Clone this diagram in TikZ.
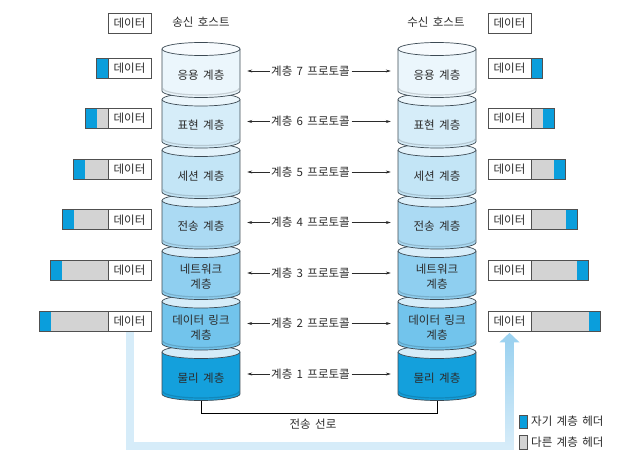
\documentclass[tikz,border=0pt]{standalone}
\usepackage{fontspec}
\setmainfont{Noto Sans CJK KR}[WordSpace=1.7]
\usetikzlibrary{arrows.meta,calc}
\definecolor{txtc}{HTML}{2B2B2B}
\definecolor{boxc}{HTML}{505050}
\definecolor{cyle}{HTML}{3C4A54}
\definecolor{hdrblue}{HTML}{0A9EDC}
\definecolor{hdrgray}{HTML}{D3D3D3}
\definecolor{bandlight}{HTML}{D6ECF9}
\definecolor{banddark}{HTML}{9CD2F0}
\definecolor{L1b}{HTML}{14A0DC}\definecolor{L1t}{HTML}{D5ECF8}
\definecolor{L2b}{HTML}{72C4EC}\definecolor{L2t}{HTML}{D7EDF9}
\definecolor{L3b}{HTML}{8FCFF0}\definecolor{L3t}{HTML}{D9EEFA}
\definecolor{L4b}{HTML}{ABDAF3}\definecolor{L4t}{HTML}{DDF0FA}
\definecolor{L5b}{HTML}{C3E5F6}\definecolor{L5t}{HTML}{E4F3FB}
\definecolor{L6b}{HTML}{D6EDF9}\definecolor{L6t}{HTML}{EBF6FC}
\definecolor{L7b}{HTML}{EBF6FC}\definecolor{L7t}{HTML}{F7FBFE}
\tikzset{
  txt/.style={font=\fontsize{11.5}{15}\selectfont, text=txtc, inner sep=0pt, align=center},
  databox/.style={draw=boxc, line width=0.7pt, minimum width=43pt, minimum height=20pt, inner sep=0pt, fill=white, font=\fontsize{11.5}{15}\selectfont, text=txtc},
  boxedge/.style={draw=boxc, line width=0.7pt},
  cyledge/.style={draw=cyle, line width=0.7pt},
  cylhit/.style={minimum width=78pt, minimum height=42pt, inner sep=0pt},
  parrow/.style={-{Stealth[length=5pt,width=3pt]}, line width=0.6pt, draw=txtc, shorten >=7pt, shorten <=1.5pt},
  wire/.style={draw=black, line width=0.8pt},
}
\newcommand{\mkcyl}[5]{%
  \fill[#4] (#2-39,#3) rectangle (#2+39,#3+42);
  \fill[#4] (#2,#3+42) ellipse[x radius=39,y radius=6.5];
  \draw[black, opacity=0.15, line width=1.2pt] (#2-38,#3+39.5) .. controls (#2-38,#3+43) and (#2-21,#3+46) .. (#2,#3+46) .. controls (#2+21,#3+46) and (#2+38,#3+43) .. (#2+38,#3+39.5);
  \draw[cyledge] (#2-39,#3) -- (#2-39,#3+42) .. controls (#2-39,#3+45.6) and (#2-21.5,#3+48.5) .. (#2,#3+48.5) .. controls (#2+21.5,#3+48.5) and (#2+39,#3+45.6) .. (#2+39,#3+42) -- (#2+39,#3);
  \filldraw[fill=#5, cyledge] (#2,#3) ellipse[x radius=39,y radius=6.5];
  \node[cylhit] (#1) at (#2,#3+21) {};
}
\newcommand{\mkleftbar}[3]{%
  \fill[hdrblue] (108-11.5*#3-11.5,#2-10) rectangle (108-11.5*#3,#2+10);
  \fill[hdrgray] (108-11.5*#3,#2-10) rectangle (108,#2+10);
  \draw[boxedge] (108-11.5*#3-11.5,#2-10) rectangle (108,#2+10);
  \node[databox] (#1) at (129.5,#2) {데이터};
}
\newcommand{\mkrightbar}[3]{%
  \fill[hdrgray] (531,#2-10) rectangle (531+11.5*#3,#2+10);
  \fill[hdrblue] (531+11.5*#3,#2-10) rectangle (531+11.5*#3+11.5,#2+10);
  \draw[boxedge] (531,#2-10) rectangle (531+11.5*#3+11.5,#2+10);
  \node[databox] (#1) at (509.5,#2) {데이터};
}
\begin{document}
\begin{tikzpicture}[x=1pt,y=-1pt]
\useasboundingbox (0,0) rectangle (644,460);
\fill[white] (0,0) rectangle (644,460);
% headers
\node[txt] (hS) at (201,22) {송신 호스트};
\node[txt] (hR) at (436,22) {수신 호스트};
\node[databox] (dL) at (129.5,23) {데이터};
\node[databox] (dR) at (509.5,23) {데이터};
% cylinders, bottom first
\foreach \k/\bc/\tc in {1/L1b/L1t,2/L2b/L2t,3/L3b/L3t,4/L4b/L4t,5/L5b/L5t,6/L6b/L6t,7/L7b/L7t}{
  \pgfmathsetmacro{\yt}{49+(7-\k)*50.5}
  \mkcyl{S\k}{201}{\yt}{\bc}{\tc}
  \mkcyl{R\k}{437}{\yt}{\bc}{\tc}
}
% layer names
\foreach \k/\t in {7/{응용 계층},6/{표현 계층},5/{세션 계층},4/{전송 계층},3/{네트워크\\계층},2/{데이터 링크\\계층},1/{물리 계층}}{
  \node[txt] (tS\k) at ($(S\k)+(0,5)$) {\t};
  \node[txt] (tR\k) at ($(R\k)+(0,5)$) {\t};
  \node[txt, anchor=west] (P\k) at ($(S\k)+(70,1)$) {계층 \k\ 프로토콜};
  \draw[parrow] (P\k.west) -- (P\k.west -| S\k.east);
  \draw[parrow] (P\k.east) -- (P\k.east -| R\k.west);
}
% header bars
\foreach \k in {7,6,5,4,3,2}{
  \pgfmathsetmacro{\yc}{68+(7-\k)*50.6}
  \pgfmathtruncatemacro{\ng}{7-\k}
  \mkleftbar{dL\k}{\yc}{\ng}
  \mkrightbar{dR\k}{\yc}{\ng}
}
% transmission line
\draw[wire] ($(S1.south)+(0,6.5)$) -- ++(0,12.5) -| ($(R1.south)+(0,6.5)$);
\node[txt] (tx) at (313,424) {전송 선로};
% flow band
\coordinate (yb) at (0,446);
\draw[bandlight, line width=8pt] ($(dL2.south)+(0,1)$) -- (dL2.south |- yb) -- (dR2.south |- yb) -- ($(dR2.south)+(0,10)$);
\shade[bottom color=bandlight, top color=banddark] ($(dR2.south |- yb)+(-4,0)$) rectangle ($(dR2.south)+(4,10.5)$);
\fill[banddark] ($(dR2.south)+(0,1.5)$) -- ($(dR2.south)+(-10,11)$) -- ($(dR2.south)+(10,11)$) -- cycle;
% legend
\filldraw[fill=hdrblue, draw=boxc, line width=0.5pt] (519,415) rectangle (527,428);
\node[txt, anchor=west] (lg1) at (531,421.5) {자기 계층 헤더};
\filldraw[fill=hdrgray, draw=boxc, line width=0.5pt] (519,435) rectangle (527,449);
\node[txt, anchor=west] (lg2) at (531,442) {다른 계층 헤더};
\end{tikzpicture}
\end{document}
